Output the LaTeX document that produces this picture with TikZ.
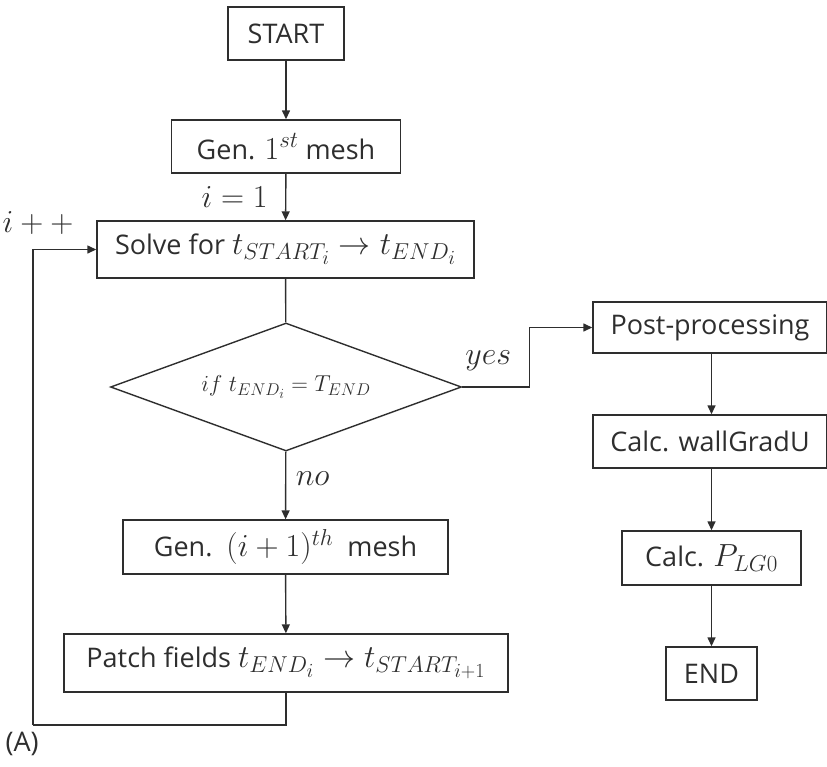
\RequirePackage{fix-cm}
\documentclass[tikz,border=0pt]{standalone}
\usepackage{amsmath}
\usepackage{fontspec}
\setmainfont{Open Sans}
\usetikzlibrary{shapes.geometric}
\usetikzlibrary{arrows.meta}
\DeclareMathSizes{27}{32}{23}{20}
\DeclareMathSizes{20}{23}{17}{14}

\begin{document}
\begin{tikzpicture}[x=1pt,y=-1pt,color=black!82,
    box/.style={draw, line width=1.4pt, minimum height=53pt, inner sep=0pt, font=\fontsize{27}{31}\selectfont},
    decision/.style={draw, diamond, line width=1.4pt, aspect=2.74, inner sep=0pt,
      minimum width=351pt, minimum height=128pt, font=\fontsize{20}{23}\selectfont},
    flow/.style={line width=1.4pt, -{Triangle[length=9pt,width=8pt]}},
    link/.style={line width=1.4pt},
    lbl/.style={font=\fontsize{27}{31}\selectfont}]
  \useasboundingbox (0,0) rectangle (827,766);
  %\draw[very thin,color=gray] (0,0) grid[step=50] (827,766);

  % main column
  \node[box, minimum width=116pt] (start) at (286,33.5) {START};
  \node[box, minimum width=229pt] (mesh1) at (286,146.5) {Gen. $1^{st}$ mesh};
  \node[box, minimum width=377pt, minimum height=57pt] (solve) at (285.5,249.5) {Solve for $t_{START_i} \rightarrow t_{END_i}$};
  \node[decision] (check) at (286,387) {$if\; t_{END_i} = T_{END}$};
  \node[box, minimum width=325pt, minimum height=54pt] (meshnext) at (285.5,547) {Gen.\ \ $(i+1)^{th}$\ \ mesh};
  \node[box, minimum width=444pt, minimum height=58pt] (patch) at (286,663) {Patch fields $t_{END_i} \rightarrow t_{START_{i+1}}$};

  % right column
  \node[box, minimum width=234pt, minimum height=51pt] (post) at (710,327.5) {Post-processing};
  \node[box, minimum width=234pt] (wall) at (710,441.5) {Calc. wallGradU};
  \node[box, minimum width=179pt, minimum height=54pt] (plg) at (711.5,558) {Calc. $P_{LG0}$};
  \node[box, minimum width=91pt] (end) at (711.5,673.5) {END};

  \draw[flow] (start) -- (mesh1);
  \draw[flow] (mesh1) -- node[lbl, left=14pt] {$i=1$} (solve);
  \draw[link] (solve) -- (check);
  \draw[flow] (check) -- node[lbl, right=6pt, pos=0.4] {$no$} (meshnext);
  \draw[flow] (meshnext) -- (patch);

  % loop back
  \coordinate (back) at (33,725);
  \draw[link] (patch.south) |- (back);
  \draw[flow] (back) |- (solve.west);
  \node[lbl] (incr) at (38,223) {$i++$};

  \draw[flow] (check.east) -- ++(67,0) node[lbl, anchor=south east, xshift=-14pt, yshift=12pt] {$yes$} |- (post.west);
  \draw[flow] (post.south -| plg) -- (wall.north -| plg);
  \draw[flow] (wall.south -| plg) -- (plg.north);
  \draw[flow] (plg) -- (end);

  \node[lbl, anchor=west] (tag) at (2,744) {(A)};
\end{tikzpicture}
\end{document}
